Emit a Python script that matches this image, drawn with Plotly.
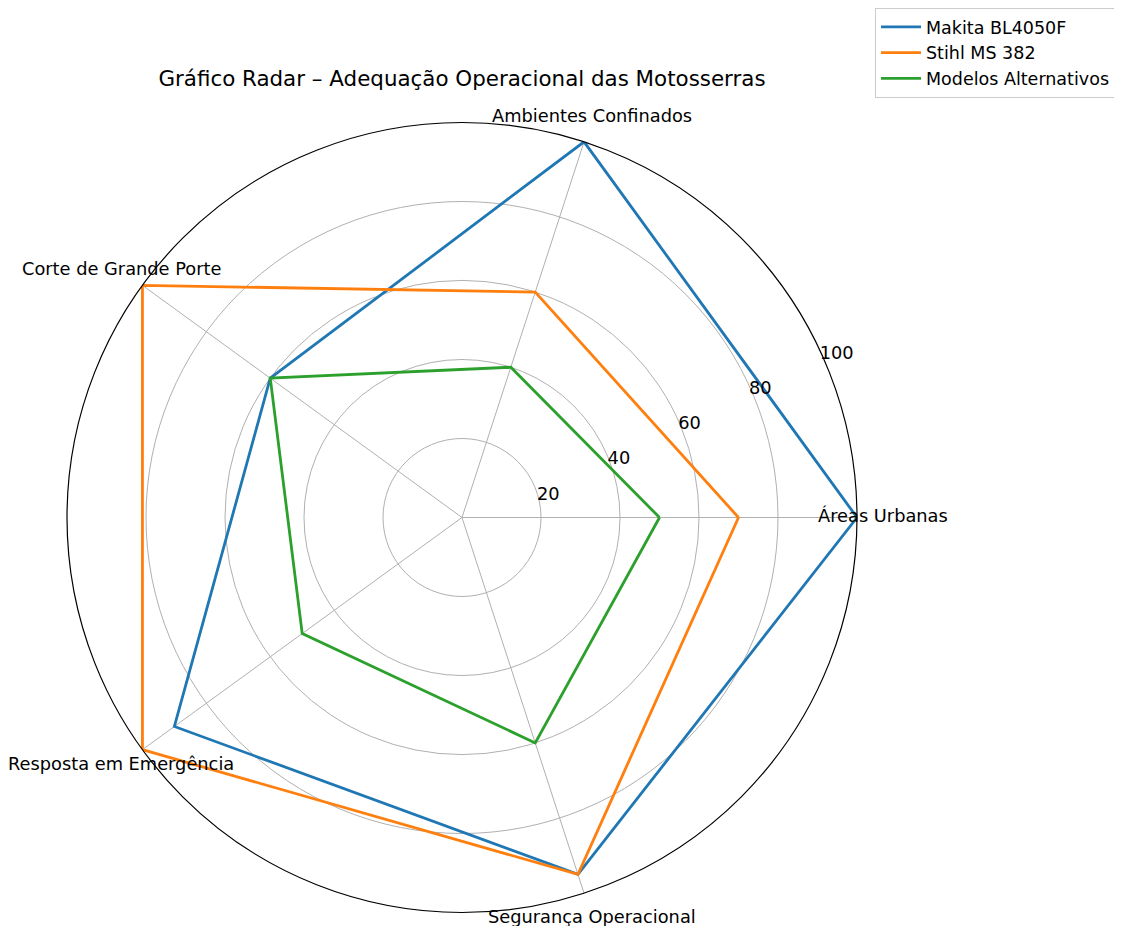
import math
import plotly.graph_objects as go

categories = ["Áreas Urbanas", "Ambientes Confinados", "Corte de Grande Porte",
              "Resposta em Emergência", "Segurança Operacional"]
makita = [100, 100, 60, 90, 95]
stihl = [70, 60, 100, 100, 95]
alternativos = [50, 40, 60, 50, 60]
series_names = ["Makita BL4050F", "Stihl MS 382", "Modelos Alternativos"]
colors = ["#1f77b4", "#ff7f0e", "#2ca02c"]
radial_ticks = [20, 40, 60, 80, 100]

W, H = 1122, 926
# the page body adds an 8px offset; work in figure pixels
OFF = 8
CX, CY, R = 462 - OFF, 517 - OFF, 395
LABEL_R = 1.066  # category labels centred just outside the outer ring

fig = go.Figure()
for name, vals, col in zip(series_names, [makita, stihl, alternativos], colors):
    fig.add_trace(go.Scatterpolar(
        r=vals + vals[:1], theta=categories + categories[:1],
        mode="lines", name=name, line=dict(color=col, width=2.8),
    ))

annotations = []
n = len(categories)
for i, cat in enumerate(categories):
    a = 2 * math.pi * i / n
    px = CX + LABEL_R * R * math.cos(a)
    py = CY - LABEL_R * R * math.sin(a)
    annotations.append(dict(text=cat, x=px / W, y=1 - py / H, xref="paper", yref="paper",
                            xanchor="center", yanchor="middle", showarrow=False, yshift=1,
                            font=dict(size=17.8, color="black")))

fig.update_layout(
    width=W, height=H,
    margin=dict(l=0, r=0, t=0, b=0),
    paper_bgcolor="white",
    font=dict(family="DejaVu Sans", size=18, color="black"),
    title=dict(text="Gráfico Radar – Adequação Operacional das Motosserras",
               x=(462 - OFF) / W, xanchor="center", y=1 - 71 / H, yanchor="middle",
               font=dict(size=21.4, color="black")),
    annotations=annotations,
    polar=dict(
        domain=dict(x=[(CX - R) / W, (CX + R) / W],
                    y=[(H - CY - R - 0.5) / H, (H - CY + R - 0.5) / H]),
        bgcolor="white",
        angularaxis=dict(
            direction="counterclockwise", rotation=0,
            showticklabels=False, ticks="",
            showgrid=True, gridcolor="#b0b0b0", gridwidth=1,
            showline=True, linecolor="black", linewidth=1.2,
        ),
        radialaxis=dict(
            range=[0, 100], tickvals=radial_ticks, angle=26.5, tickangle=26.5,
            side="clockwise",
            showline=False, ticks="", showgrid=True, gridcolor="#b0b0b0", gridwidth=1,
            tickfont=dict(size=17.8, color="black"),
        ),
    ),
    legend=dict(x=(875 - OFF) / W, y=1, xanchor="left", yanchor="top",
                bordercolor="#cccccc", borderwidth=1, bgcolor="white",
                itemwidth=40,
                font=dict(size=17.5, color="black"), tracegroupgap=0),
)

fig.write_html("out.html")
